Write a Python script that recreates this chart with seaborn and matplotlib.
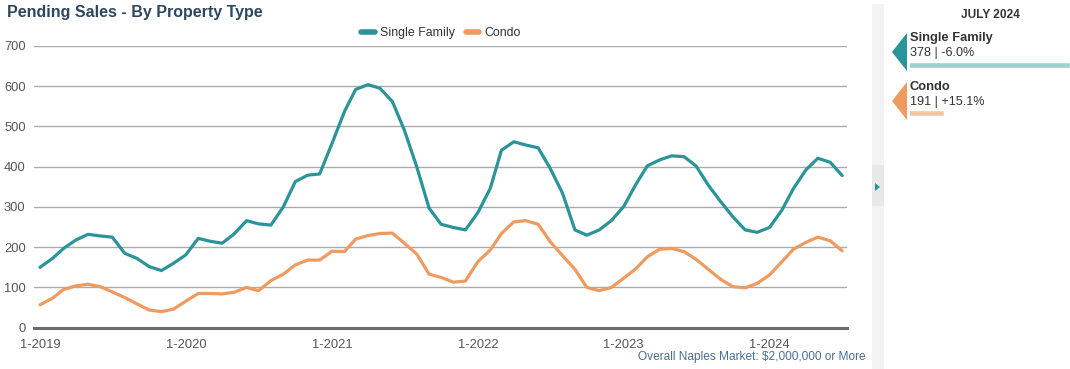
import numpy as np
import pandas as pd
import matplotlib
matplotlib.use("Agg")
import matplotlib.pyplot as plt
from matplotlib.patches import Polygon, Rectangle
from matplotlib.lines import Line2D
import seaborn as sns

# ---------------- data ----------------
months = pd.date_range("2019-01-01", periods=67, freq="MS")
single_family = [150, 172, 197, 218, 232, 228, 225, 185, 172, 152, 142, 160,
                 181, 222, 215, 210, 233, 266, 258, 255, 300, 363, 379, 382,
                 458, 537, 592, 604, 595, 562, 491, 400, 297, 257, 249, 243,
                 286, 346, 441, 462, 454, 447, 396, 334, 243, 230, 243, 266,
                 301, 357, 402, 417, 427, 425, 402, 354, 313, 276, 243, 237,
                 249, 292, 346, 392, 421, 411, 378]
condo = [57, 73, 95, 104, 108, 102, 89, 75, 59, 44, 40, 46,
         66, 85, 85, 84, 88, 100, 92, 117, 133, 156, 168, 168,
         190, 189, 220, 229, 234, 235, 210, 183, 133, 125, 113, 116,
         164, 193, 234, 263, 266, 257, 214, 179, 145, 100, 92, 100,
         123, 147, 176, 195, 197, 189, 170, 145, 120, 102, 99, 110,
         131, 164, 195, 212, 225, 216, 191]
series_names = ["Single Family", "Condo"]
y_ticks = [0, 100, 200, 300, 400, 500, 600, 700]
x_tick_labels = ["1-2019", "1-2020", "1-2021", "1-2022", "1-2023", "1-2024"]
panel_month = "JULY 2024"
panel_values = [378, 191]
panel_changes = ["-6.0%", "+15.1%"]

TEAL = "#2a9499"
ORANGE = "#ef9a5f"
TEAL_LIGHT = "#9ed0ce"
ORANGE_LIGHT = "#f6c5a7"

df = pd.DataFrame({
    "month": list(months) * 2,
    "value": single_family + condo,
    "type": [series_names[0]] * len(months) + [series_names[1]] * len(months),
})

# ---------------- figure ----------------
sns.set_theme(style="white")
plt.rcParams["font.family"] = ["Liberation Sans", "DejaVu Sans"]

W, H = 1070, 369
fig = plt.figure(figsize=(W / 100, H / 100), dpi=100)

def fx(px):
    return px / W

def fy(py):
    return 1 - py / H

ax = fig.add_axes([fx(34), fy(327.7), fx(847) - fx(34), fy(46) - fy(327.7)])
sns.lineplot(data=df, x="month", y="value", hue="type",
             palette=[TEAL, ORANGE], linewidth=2.3, ax=ax, legend=False)

ax.set_ylim(0, 700)
ax.set_xlim(months[0] - pd.Timedelta(days=15), months[-1] + pd.Timedelta(days=12))
ax.set_yticks(y_ticks)
ax.set_yticklabels([str(v) for v in y_ticks], color="#555555", fontsize=9.3)
ax.yaxis.grid(True, color="#ababab", linewidth=1.0)
ax.xaxis.grid(False)
ax.set_axisbelow(True)
xt = [pd.Timestamp(f"{y}-01-01") for y in range(2019, 2025)]
ax.set_xticks(xt)
ax.set_xticklabels(x_tick_labels, color="#555555", fontsize=9.3)
ax.set_xlabel("")
ax.set_ylabel("")
for s in ["top", "right", "left"]:
    ax.spines[s].set_visible(False)
ax.spines["bottom"].set_color("#6b6b6b")
ax.spines["bottom"].set_linewidth(2.2)
ax.spines["bottom"].set_zorder(5)
ax.tick_params(axis="x", length=5, width=1.5, color="#6b6b6b", pad=3, direction="out")
ax.tick_params(axis="y", length=0, pad=6)

# legend
handles = [Line2D([0], [0], color=TEAL, lw=4), Line2D([0], [0], color=ORANGE, lw=4)]
fig.legend(handles, series_names, loc="center", bbox_to_anchor=(fx(441), fy(33)),
           ncol=2, frameon=False, fontsize=8.9, handlelength=1.1, handletextpad=0.4,
           columnspacing=0.9, labelcolor="#333333")

# title and footnote
fig.text(fx(7), fy(13), "Pending Sales - By Property Type", fontsize=11.5, fontweight="bold",
         color="#2d4760", ha="left", va="center")
fig.text(fx(866), fy(357), "Overall Naples Market: $2,000,000 or More", fontsize=8.6,
         color="#4a6f96", ha="right", va="center")

# right side strip
fig.patches.append(Rectangle((fx(872), fy(369)), fx(884) - fx(872), fy(4) - fy(369),
                             transform=fig.transFigure, facecolor="#f3f3f3", edgecolor="none"))
fig.patches.append(Rectangle((fx(872), fy(206)), fx(884) - fx(872), fy(165) - fy(206),
                             transform=fig.transFigure, facecolor="#e8e8e8", edgecolor="none"))
fig.patches.append(Polygon([(fx(875), fy(183)), (fx(875), fy(191)), (fx(880), fy(187))],
                           closed=True, transform=fig.transFigure, facecolor=TEAL, edgecolor="none"))

# right panel
fig.text(fx(990), fy(15), panel_month, fontsize=8.6, fontweight="bold", color="#333333",
         ha="center", va="center")
marker_tops = [33, 82]
colors = [TEAL, ORANGE]
for i, (name, val, chg) in enumerate(zip(series_names, panel_values, panel_changes)):
    t = marker_tops[i]
    fig.patches.append(Polygon([(fx(892), fy(t + 19)), (fx(907), fy(t)), (fx(907), fy(t + 38))],
                               closed=True, transform=fig.transFigure, facecolor=colors[i],
                               edgecolor="none"))
    fig.text(fx(910), fy(t + 5), name, fontsize=9.3, fontweight="bold", color="#333333",
             ha="left", va="center")
    fig.text(fx(910), fy(t + 20), f"{val} | {chg}", fontsize=9.1, color="#333333",
             ha="left", va="center")

ax2 = fig.add_axes([fx(910), fy(121), fx(1070) - fx(910), fy(57) - fy(121)])
ax2.barh(range(len(panel_values)), panel_values, height=0.125,
         color=[TEAL_LIGHT, ORANGE_LIGHT], left=0)
ax2.set_xlim(140.6, 378)
ax2.set_ylim(1.1667, -0.1667)
ax2.axis("off")

fig.savefig("out.png", dpi=100)
